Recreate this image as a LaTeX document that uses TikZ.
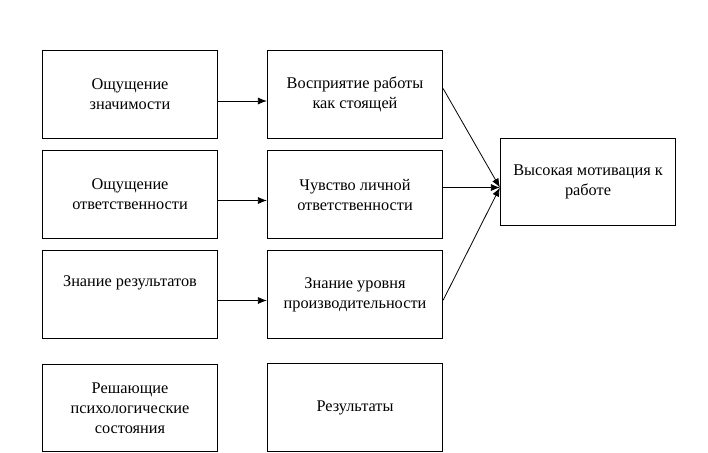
\documentclass[tikz,border=0pt]{standalone}
\usepackage{fontspec}
\setmainfont{Liberation Serif}
\usetikzlibrary{arrows.meta}
\begin{document}
\begin{tikzpicture}[x=1pt,y=-1pt,
  box/.style={draw=black,line width=0.8pt,fill=white,minimum width=175.4pt,minimum height=87.6pt,
    inner sep=0pt,align=center,font=\fontsize{16.3}{20}\selectfont},
  conn/.style={line width=0.8pt,-{Latex[length=9pt,width=7pt]}}]
\useasboundingbox (0,0) rectangle (708,452);
\node[box] (a1) at (130,94.5) {Ощущение\\значимости};
\node[box] (a2) at (130,194.5) {Ощущение\\ответственности};
\node[box] (a3) at (130,294.5) {Знание результатов\\\strut};
\node[box] (a4) at (130,407.8) {Решающие\\психологические\\состояния};
\node[box] (b1) at (355,94.5) {Восприятие работы\\как стоящей};
\node[box] (b2) at (355,194.5) {Чувство личной\\ответственности};
\node[box] (b3) at (355,294.5) {Знание уровня\\производительности};
\node[box] (b4) at (355,407.5) {Результаты};
\node[box] (c) at (588,181.7) {Высокая мотивация к\\работе};
\draw[conn] ([yshift=-6.5pt]a1.east) -- ([yshift=-6.5pt]b1.west);
\draw[conn] ([yshift=-6pt]a2.east) -- ([yshift=-6pt]b2.west);
\draw[conn] ([yshift=-6pt]a3.east) -- ([yshift=-6pt]b3.west);
\draw[conn] ([yshift=6pt]b1.east) -- ([yshift=-5.8pt]c.west);
\draw[conn] ([yshift=7pt]b2.east) -- ([yshift=-5.8pt]c.west);
\draw[conn] ([yshift=-5.8pt]b3.east) -- ([yshift=-5.8pt]c.west);
\end{tikzpicture}
\end{document}
